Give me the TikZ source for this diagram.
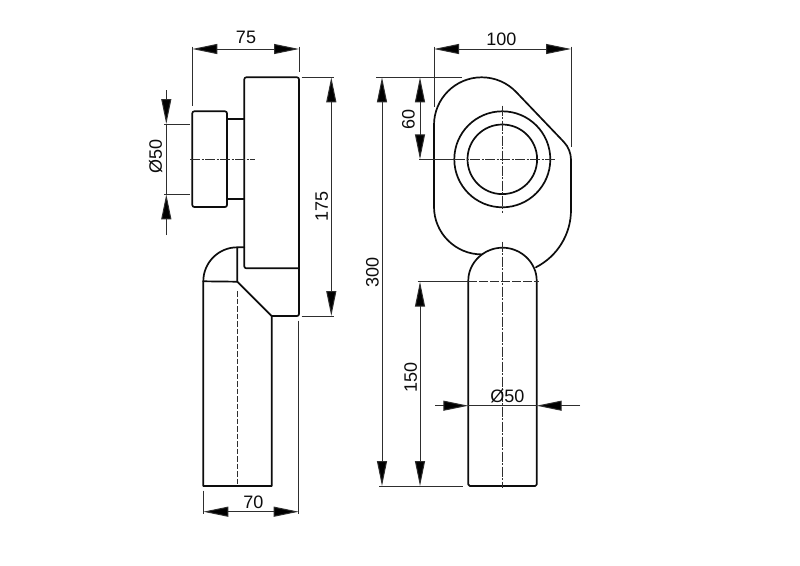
\documentclass[tikz,border=0pt]{standalone}
\usepackage{fontspec}
\setmainfont{Liberation Sans}
\usetikzlibrary{arrows.meta}
\definecolor{dimgrey}{gray}{0.18}
\definecolor{inkblack}{gray}{0.05}
\tikzset{
  outline/.style={draw=inkblack,line width=1.7pt,line cap=round,line join=round},
  dimline/.style={draw=dimgrey,line width=1pt},
  dimarrow/.style={dimline,-{Triangle[length=25pt,width=10pt,fill=black]}},
  dimboth/.style={dimline,{Triangle[length=25pt,width=10pt,fill=black]}-{Triangle[length=25pt,width=10pt,fill=black]}},
  centerline/.style={draw=dimgrey,line width=1pt,dash pattern=on 10pt off 1.5pt on 2pt off 1.5pt},
  hiddenline/.style={draw=dimgrey,line width=1pt,dash pattern=on 5.5pt off 2pt},
  dimtext/.style={text=inkblack,inner sep=0pt,font=\fontsize{18}{18}\selectfont},
  dimtextv/.style={dimtext,rotate=90}
}
\begin{document}
\begin{tikzpicture}[x=1pt,y=1pt,yscale=-1]
\useasboundingbox (0,0) rectangle (800,565);
\fill[white] (0,0) rectangle (800,565);

% ---------- side view: shapes
\draw[outline,rounded corners=2pt] (192.3,111.3) rectangle (227,207);
\draw[outline] (227,119.3) -- (244.3,119.3);
\draw[outline] (227,199) -- (244.3,199);
\draw[outline,rounded corners=2pt] (299,268.3) -- (244.3,268.3) -- (244.3,77.3) -- (299,77.3) -- (299,316) -- (271.7,316);
\draw[outline] (244.3,247.3) -- (237.3,247.3) arc[start angle=270,end angle=180,radius=34] -- (203.3,486) -- (271.7,486) -- (271.7,316) -- (237.3,281.7) -- (237.3,247.3);
\draw[outline] (203.3,281.3) -- (237.3,281.7);
\draw[hiddenline] (237.3,291) -- (237.3,486);
\draw[centerline] (190,159) -- (255,159);

% ---------- side view: dimensions
\coordinate (a75l) at (192.3,49);
\coordinate (a75r) at (299,49);
\draw[dimline] (192.3,46.7) -- (192.3,106);
\draw[dimline] (299,46.7) -- (299,72);
\draw[dimboth] (a75l) -- (a75r);
\node[dimtext] (t75) at (246,37.5) {75};

\coordinate (d50a) at (166.3,90);
\coordinate (d50b) at (166.3,124);
\coordinate (d50c) at (166.3,194.3);
\coordinate (d50d) at (166.3,235);
\draw[dimline] (164,124) -- (189.7,124);
\draw[dimline] (164,194.3) -- (189.7,194.3);
\draw[dimarrow] (d50a) -- (d50b);
\draw[dimarrow] (d50d) -- (d50c);
\draw[dimline] (d50b) -- (d50c);
\node[dimtextv] (td50a) at (155.7,156.7) {Ø50};

\coordinate (a175t) at (331.3,77.3);
\coordinate (a175b) at (331.3,316);
\draw[dimline] (301.7,77.3) -- (334,77.3);
\draw[dimline] (301.7,316) -- (334,316);
\draw[dimboth] (a175t) -- (a175b);
\node[dimtextv] (t175) at (321.7,206) {175};

\coordinate (a70l) at (203.3,511.7);
\coordinate (a70r) at (298.7,511.7);
\draw[dimline] (203.3,490.7) -- (203.3,514);
\draw[dimline] (298.7,320.7) -- (298.7,514);
\draw[dimboth] (a70l) -- (a70r);
\node[dimtext] (t70) at (253.3,502.3) {70};

% ---------- front view: shapes
\draw[outline] (434,206.7) -- (434,125)
  arc[start angle=180,end angle=316.2,radius=47.7]
  -- (563.7,141.8)
  arc[start angle=316.2,end angle=360,radius=26.3]
  -- (571,210)
  arc[start angle=0,end angle=63,radius=64.3];
\draw[outline] (434,206.7) arc[start angle=180,end angle=90,radius=47.7];
\draw[outline] (502.3,159.3) circle[radius=48];
\draw[outline] (502.3,159.3) circle[radius=34.8];
\draw[outline,rounded corners=1.5pt] (468.3,281.9) arc[start angle=180,end angle=360,radius=34.2] -- (536.7,486) -- (468.3,486) -- cycle;
\draw[centerline] (502.3,105.7) -- (502.3,212.7);
\draw[centerline] (455,159.3) -- (555,159.3);
\draw[centerline] (502.3,241.7) -- (502.3,488.3);
\draw[hiddenline,dash pattern=on 9pt off 2pt] (468.3,281.7) -- (539.3,281.7);

% ---------- front view: dimensions
\coordinate (a100l) at (434,49);
\coordinate (a100r) at (571,49);
\draw[dimline] (434,46.7) -- (434,107);
\draw[dimline] (571,46.7) -- (571,146.7);
\draw[dimboth] (a100l) -- (a100r);
\node[dimtext] (t100) at (501.3,39.3) {100};

\coordinate (a300t) at (382,77.3);
\coordinate (a300b) at (382,486);
\draw[dimline] (376,77.3) -- (462.3,77.3);
\draw[dimline] (379.3,486) -- (463.3,486);
\draw[dimboth] (a300t) -- (a300b);
\node[dimtextv] (t300) at (372.5,272.5) {300};

\coordinate (a60t) at (420,77.3);
\coordinate (a60b) at (420,159.3);
\draw[dimline] (419.3,159.3) -- (455,159.3);
\draw[dimboth] (a60t) -- (a60b);
\node[dimtextv] (t60) at (408.3,119) {60};

\coordinate (a150t) at (420,281.7);
\coordinate (a150b) at (420,486);
\draw[dimline] (417.7,281.7) -- (468.3,281.7);
\draw[dimboth] (a150t) -- (a150b);
\node[dimtextv] (t150) at (410.7,377.3) {150};

\coordinate (d50l) at (435,405.7);
\coordinate (d50m) at (468.3,405.7);
\coordinate (d50n) at (536.7,405.7);
\coordinate (d50o) at (580,405.7);
\draw[dimarrow] (d50l) -- (d50m);
\draw[dimarrow] (d50o) -- (d50n);
\draw[dimline] (d50m) -- (d50n);
\node[dimtext] (td50b) at (507.3,396) {Ø50};
\end{tikzpicture}
\end{document}
